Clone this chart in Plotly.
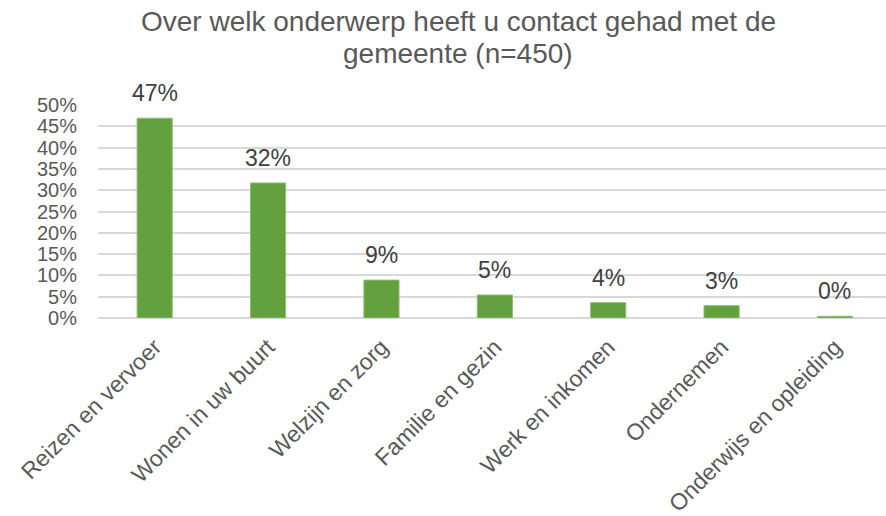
import plotly.graph_objects as go

# Survey result: subject of contact with the municipality (n=450)
categories = [
    "Reizen en vervoer",
    "Wonen in uw buurt",
    "Welzijn en zorg",
    "Familie en gezin",
    "Werk en inkomen",
    "Ondernemen",
    "Onderwijs en opleiding",
]
shares = [0.469, 0.317, 0.089, 0.054, 0.036, 0.029, 0.004]
y_ticks = [0, 0.05, 0.10, 0.15, 0.20, 0.25, 0.30, 0.35, 0.40, 0.45, 0.50]
title_lines = ["Over welk onderwerp heeft u contact gehad met de", "gemeente (n=450)"]

FONT = "Liberation Sans, Arial, sans-serif"
GREEN = "#63a03f"
TOP, BOTTOM, LEFT = 105, 198, 98
PLOT_H = 516 - TOP - BOTTOM
PLOT_W = 886 - LEFT

fig = go.Figure()
fig.add_trace(go.Bar(
    x=categories,
    y=shares,
    marker=dict(color=GREEN, line=dict(color="#8cc06a", width=1)),
    width=0.31,
    hoverinfo="skip",
))

# value labels above every bar
for cat, val in zip(categories, shares):
    fig.add_annotation(
        x=cat, y=val, text=f"{val:.0%}", showarrow=False,
        yanchor="bottom", yshift=10,
        font=dict(family=FONT, size=23, color="#404040"),
    )

# chart title, one annotation per line for tighter line spacing
for i, line in enumerate(title_lines):
    top_px = 4 + 32 * i
    fig.add_annotation(
        xref="paper", yref="paper",
        x=(458 - LEFT) / PLOT_W, y=(516 - BOTTOM - top_px) / PLOT_H,
        xanchor="center", yanchor="top",
        text=line, showarrow=False,
        font=dict(family=FONT, size=28, color="#595959"),
    )

fig.update_layout(
    width=886, height=516,
    margin=dict(l=LEFT, r=0, t=TOP, b=BOTTOM),
    paper_bgcolor="white", plot_bgcolor="white",
    showlegend=False,
    xaxis=dict(
        range=[-0.5, 6.45],
        tickangle=-45,
        tickfont=dict(family=FONT, size=23, color="#595959"),
        showgrid=False, showline=False, ticks="",
        ticklabelstandoff=10,
    ),
    yaxis=dict(
        range=[0, 0.5],
        tickvals=y_ticks,
        tickformat=".0%",
        tickfont=dict(family=FONT, size=20, color="#595959"),
        showgrid=True, gridcolor="#d9d9d9", gridwidth=1.5,
        zeroline=True, zerolinecolor="#d9d9d9", zerolinewidth=1.5,
        showline=False, ticks="", ticklabelstandoff=20,
    ),
)

fig.write_html("out.html")
